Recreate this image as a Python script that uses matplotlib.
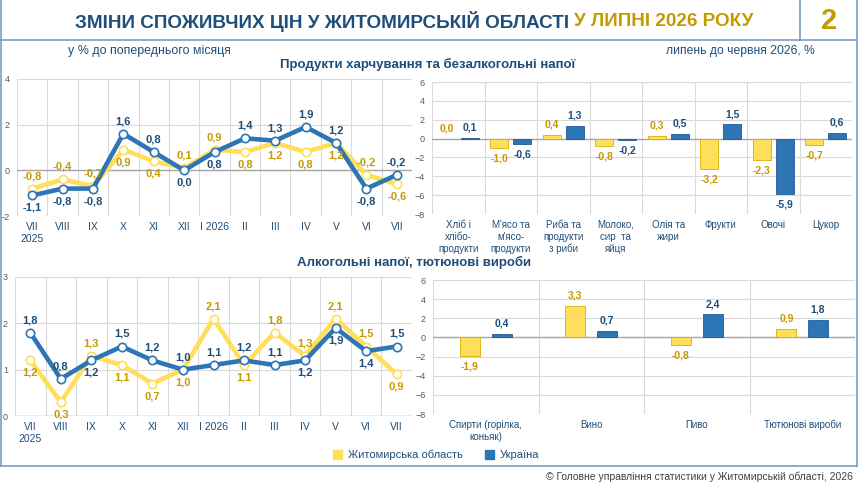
import matplotlib.pyplot as plt
import numpy as np
from matplotlib.patches import Patch
from matplotlib.lines import Line2D

# month labels for both line charts
months = ['VII\n2025', 'VIII', 'IX', 'X', 'XI', 'XII', 'I 2026',
          'II', 'III', 'IV', 'V', 'VI', 'VII']

# food, % to previous month
food_zh = [-0.8, -0.4, -0.7, 0.9, 0.4, 0.1, 0.9, 0.8, 1.2, 0.8, 1.2, -0.2, -0.6]
food_ua = [-1.1, -0.8, -0.8, 1.6, 0.8, 0.0, 0.8, 1.4, 1.3, 1.9, 1.2, -0.8, -0.2]
# label placement: 1 above, -1 below
food_zh_pos = [1, 1, 1, -1, -1, 1, 1, -1, -1, -1, -1, 1, -1]
food_ua_pos = [-1, -1, -1, 1, 1, -1, -1, 1, 1, 1, 1, -1, 1]

# alcohol and tobacco, % to previous month
alc_zh = [1.2, 0.3, 1.3, 1.1, 0.7, 1.0, 2.1, 1.1, 1.8, 1.3, 2.1, 1.5, 0.9]
alc_ua = [1.8, 0.8, 1.2, 1.5, 1.2, 1.0, 1.1, 1.2, 1.1, 1.2, 1.9, 1.4, 1.5]
alc_zh_pos = [-1, -1, 1, -1, -1, -1, 1, -1, 1, 1, 1, 1, -1]
alc_ua_pos = [1, 1, -1, 1, 1, 1, 1, 1, 1, -1, -1, -1, 1]

# July to June 2026, by product group
food_groups = ['Хліб і\nхлібо-\nпродукти', "М'ясо та\nм'ясо-\nпродукти",
               'Риба та\nпродукти\nз риби', 'Молоко,\nсир  та\nяйця',
               'Олія та\nжири', 'Фрукти', 'Овочі', 'Цукор']
food_groups_zh = [0.0, -1.0, 0.4, -0.8, 0.3, -3.2, -2.3, -0.7]
food_groups_ua = [0.1, -0.6, 1.3, -0.2, 0.5, 1.5, -5.9, 0.6]

alc_groups = ['Спирти (горілка,\nконьяк)', 'Вино', 'Пиво', 'Тютюнові вироби']
alc_groups_zh = [-1.9, 3.3, -0.8, 0.9]
alc_groups_ua = [0.4, 0.7, 2.4, 1.8]

W, H = 859, 487
YELLOW = '#FFDE59'
BLUE = '#2E75B6'
GOLD = '#C49A00'
DARKBLUE = '#1F4E79'
BORDER = '#7A9CC6'
GRID = '#D9D9D9'

plt.rcParams['font.family'] = ['Liberation Sans', 'DejaVu Sans']

fig = plt.figure(figsize=(W / 100, H / 100), dpi=100)


def px_axes(x0, y0, x1, y1):
    return fig.add_axes([x0 / W, 1 - y1 / H, (x1 - x0) / W, (y1 - y0) / H])


def fmt(v):
    return f'{v:.1f}'.replace('.', ',')


def style_axes(ax, n, ylim, step, xsize):
    ax.set_xlim(-0.5, n - 0.5)
    ax.set_ylim(*ylim)
    ax.set_yticks(np.arange(ylim[0], ylim[1] + 0.01, step))
    ax.set_xticks(range(n))
    ax.set_xticks(np.arange(-0.5, n, 1), minor=True)
    ax.grid(which='minor', axis='x', color=GRID, lw=0.8)
    ax.grid(which='major', axis='y', color=GRID, lw=0.8)
    ax.tick_params(which='both', length=0)
    ax.tick_params(axis='y', labelsize=6.5, labelcolor='#595959', pad=5)
    ax.tick_params(axis='x', labelsize=xsize, labelcolor=DARKBLUE, pad=4)
    for s in ax.spines.values():
        s.set_visible(False)
    ax.set_axisbelow(True)
    ax.axhline(0, color='#A6A6A6', lw=1, zorder=1)


def line_chart(ax, zh, ua, zh_pos, ua_pos, ylim, step):
    x = np.arange(len(months))
    style_axes(ax, len(months), ylim, step, 7.5)
    ax.set_xticklabels(months, linespacing=1.3)
    for vals, pos, col, lcol in [(zh, zh_pos, YELLOW, GOLD), (ua, ua_pos, BLUE, DARKBLUE)]:
        ax.plot(x, vals, color=col, lw=3.3, marker='o', ms=6,
                mfc='white', mec=col, mew=1.2, zorder=3, clip_on=False)
        for xi, v, p in zip(x, vals, pos):
            ax.annotate(fmt(v), (xi, v), xytext=(0, 9 * p), textcoords='offset points',
                        ha='center', va='center', fontsize=8, fontweight='bold',
                        color=lcol, zorder=4)


def bar_chart(ax, cats, zh, ua, width, off):
    x = np.arange(len(cats))
    style_axes(ax, len(cats), (-8, 6), 2, 7)
    ax.set_xticklabels(cats, linespacing=1.25)
    for vals, sh, col, ec, lcol in [(zh, -off, YELLOW, '#D9B000', GOLD),
                                    (ua, off, BLUE, '#1F5A96', DARKBLUE)]:
        ax.bar(x + sh, vals, width, color=col, edgecolor=ec, lw=0.6, zorder=2)
        for xi, v in zip(x + sh, vals):
            p = 1 if v >= 0 else -1
            ax.annotate(fmt(v), (xi, v), xytext=(0, 7.5 * p), textcoords='offset points',
                        ha='center', va='center', fontsize=7.5, fontweight='bold',
                        color=lcol, zorder=4)


ax1 = px_axes(17, 79, 412, 216)
line_chart(ax1, food_zh, food_ua, food_zh_pos, food_ua_pos, (-2, 4), 2)

ax2 = px_axes(432, 82, 852, 214)
bar_chart(ax2, food_groups, food_groups_zh, food_groups_ua, 0.35, 0.22)

ax3 = px_axes(15, 277, 412, 416)
line_chart(ax3, alc_zh, alc_ua, alc_zh_pos, alc_ua_pos, (0, 3), 1)

ax4 = px_axes(433, 280, 855, 414)
bar_chart(ax4, alc_groups, alc_groups_zh, alc_groups_ua, 0.19, 0.15)


# frames
def px_line(x0, y0, x1, y1):
    fig.add_artist(Line2D([x0 / W, x1 / W], [1 - y0 / H, 1 - y1 / H],
                          color=BORDER, lw=1.2))


px_line(1, 0, 1, 466)
px_line(857, 0, 857, 466)
px_line(1, 40, 857, 40)
px_line(800, 0, 800, 40)
px_line(1, 466, 857, 466)

# header in two colours
r = fig.canvas.get_renderer()
t1 = fig.text(75 / W, 1 - 21 / H, 'ЗМІНИ СПОЖИВЧИХ ЦІН У ЖИТОМИРСЬКІЙ ОБЛАСТІ ',
              fontsize=13.6, fontweight='bold', color=DARKBLUE, va='center')
bb = t1.get_window_extent(r)
fig.text(bb.x1 / W, 1 - 21 / H, 'У ЛИПНІ 2026 РОКУ',
         fontsize=13.6, fontweight='bold', color=GOLD, va='center')
fig.text(829 / W, 1 - 21 / H, '2', fontsize=21, fontweight='bold', color=GOLD,
         ha='center', va='center')

fig.text(68 / W, 1 - 51 / H, 'у % до попереднього місяця', fontsize=8.9, color=DARKBLUE,
         va='center')
fig.text(815 / W, 1 - 51 / H, 'липень до червня 2026, %', fontsize=8.7, color=DARKBLUE,
         va='center', ha='right')
fig.text(428 / W, 1 - 64 / H, 'Продукти харчування та безалкогольні напої', fontsize=9.5,
         fontweight='bold', color=DARKBLUE, ha='center', va='center')
fig.text(414 / W, 1 - 262 / H, 'Алкогольні напої, тютюнові вироби', fontsize=9.5,
         fontweight='bold', color=DARKBLUE, ha='center', va='center')

handles = [Patch(facecolor=YELLOW, edgecolor=YELLOW), Patch(facecolor=BLUE, edgecolor=BLUE)]
fig.legend(handles, ['Житомирська область', 'Україна'], loc='center',
           bbox_to_anchor=(436 / W, 1 - 455 / H), ncol=2, frameon=False, fontsize=8,
           handlelength=0.8, handleheight=0.8, handletextpad=0.5, columnspacing=2.0,
           labelcolor=DARKBLUE)

fig.text(853 / W, 1 - 477 / H, '© Головне управління статистики у Житомирській області, 2026',
         fontsize=7.5, color='#404040', ha='right', va='center')

fig.savefig('out.png', dpi=100)
